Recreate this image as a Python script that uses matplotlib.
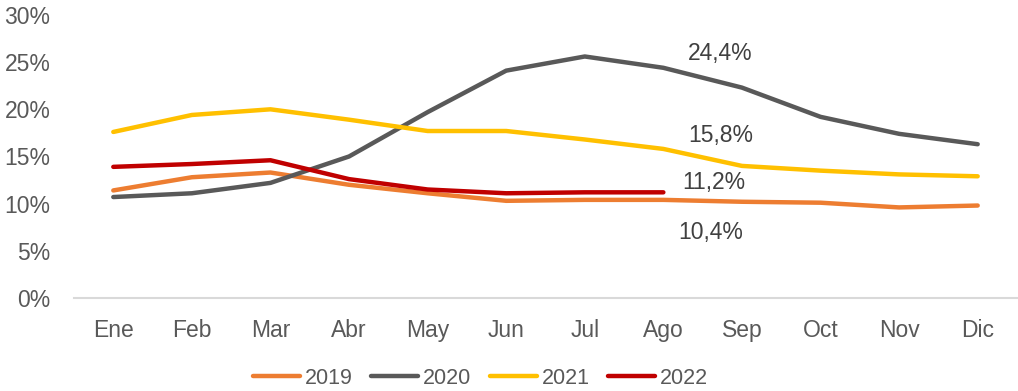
import matplotlib
matplotlib.use("Agg")
import matplotlib.pyplot as plt
from matplotlib.ticker import FuncFormatter

plt.rcParams['font.family'] = ['Liberation Sans', 'DejaVu Sans']

months = ["Ene", "Feb", "Mar", "Abr", "May", "Jun", "Jul", "Ago", "Sep", "Oct", "Nov", "Dic"]
years = ["2019", "2020", "2021", "2022"]

rate_2019 = [11.4, 12.8, 13.3, 12.0, 11.1, 10.3, 10.4, 10.4, 10.2, 10.1, 9.6, 9.8]
rate_2020 = [10.7, 11.1, 12.2, 15.0, 19.7, 24.1, 25.6, 24.4, 22.3, 19.2, 17.4, 16.3]
rate_2021 = [17.6, 19.4, 20.0, 18.9, 17.7, 17.7, 16.8, 15.8, 14.0, 13.5, 13.1, 12.9]
rate_2022 = [13.9, 14.2, 14.6, 12.6, 11.5, 11.1, 11.2, 11.2]

series = [rate_2019, rate_2020, rate_2021, rate_2022]
colors = ["#ED7D31", "#595959", "#FFC000", "#C00000"]

# value labels at Ago: (series index, x offset px, y offset px)
label_month = "Ago"
label_offsets = [(0, 47, -33), (1, 57, 14), (2, 57, 13), (3, 50, 10)]

FS = 16.5

fig = plt.figure(figsize=(10.18, 3.91), dpi=100)
ax = fig.add_axes([0.0727, 0.2379, 0.9263, 0.7238])

for yr, vals, c in zip(years, series, colors):
    ax.plot(range(len(vals)), vals, color=c, lw=3.2, label=yr,
            solid_capstyle="round", solid_joinstyle="round")

xi = months.index(label_month)
for si, dx, dy in label_offsets:
    v = series[si][xi]
    ax.annotate(f"{v:.1f}%".replace(".", ","), xy=(xi, v), xytext=(dx, dy),
                textcoords="offset pixels", ha="center", va="center",
                fontsize=FS, color="#404040")

ax.set_xlim(-0.5, 11.5)
ax.set_ylim(0, 30)
ax.set_yticks(range(0, 31, 5))
ax.yaxis.set_major_formatter(FuncFormatter(lambda v, p: f"{v:.0f}%"))
ax.set_xticks(range(12))
ax.set_xticklabels(months)
ax.tick_params(axis="both", length=0, labelsize=FS, labelcolor="#595959")
ax.tick_params(axis="x", pad=15)
ax.tick_params(axis="y", pad=17)
for s in ["top", "right", "left"]:
    ax.spines[s].set_visible(False)
ax.spines["bottom"].set_color("#D9D9D9")
ax.spines["bottom"].set_linewidth(1.5)

leg = fig.legend(loc="center", bbox_to_anchor=(0.472, 0.033), ncol=4, frameon=False,
                 fontsize=15.5, handlelength=2.2, handletextpad=0.22, columnspacing=0.85,
                 labelcolor="#595959")

fig.savefig("out.png", dpi=100)
